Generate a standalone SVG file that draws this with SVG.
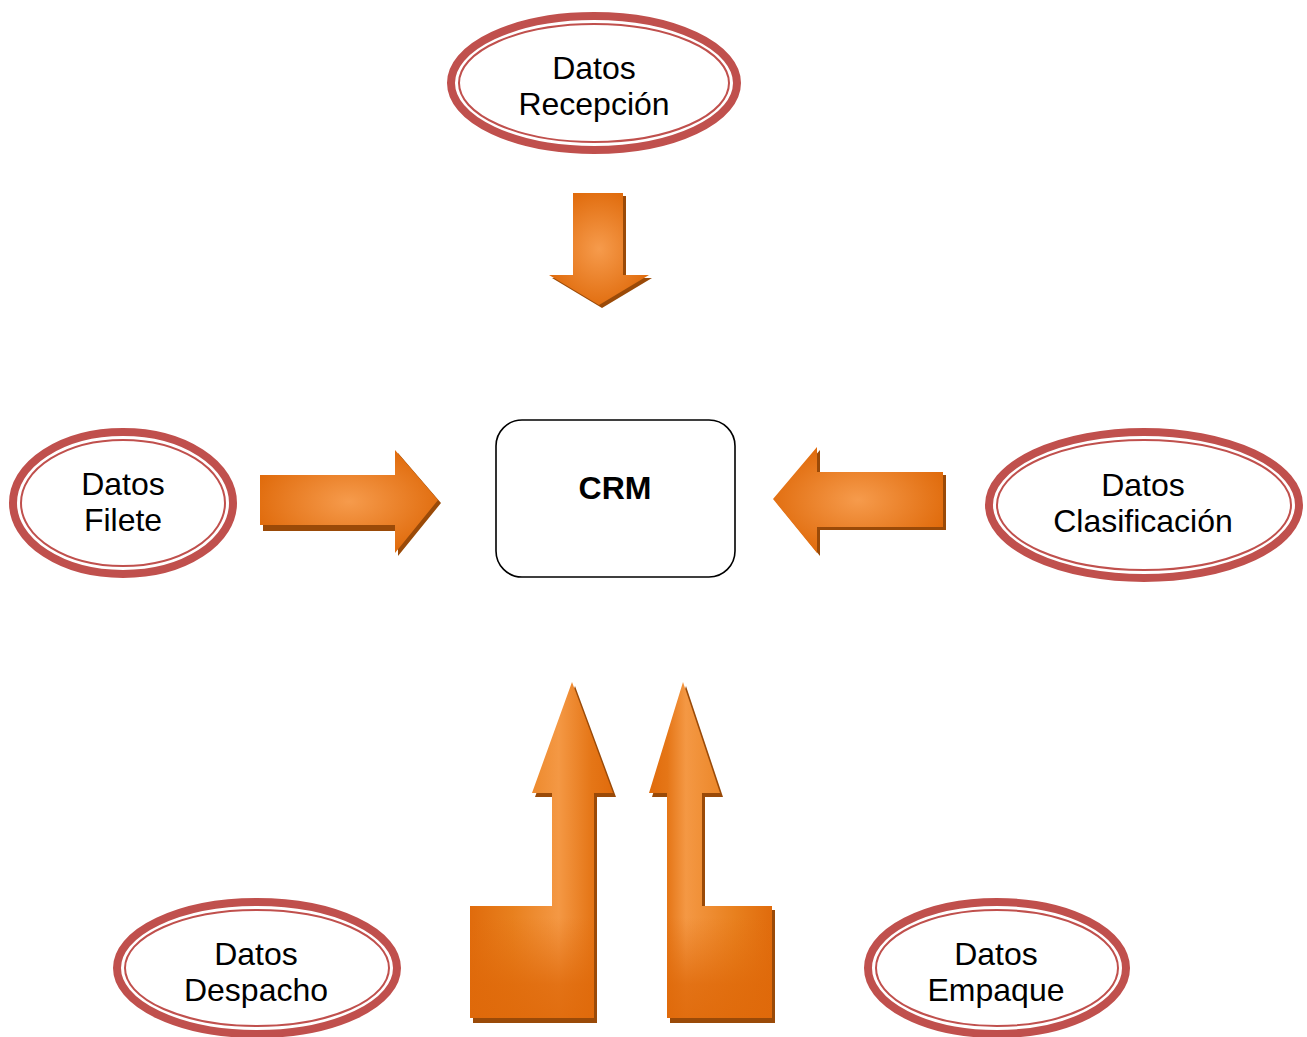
<svg xmlns="http://www.w3.org/2000/svg" width="1307" height="1037" viewBox="0 0 1307 1037">
<style>
.outer{fill:#fff;stroke:#C0504D;stroke-width:8}
.inner{fill:none;stroke:#C0504D;stroke-width:2}
.lbl{font-family:"Liberation Sans",Arial,sans-serif;font-size:32px;fill:#000;text-anchor:middle}
.shadow{fill:#9A4A08}
</style>
<defs>
<radialGradient id="rg" cx="50%" cy="50%" r="55%">
<stop offset="0" stop-color="#F69B4C"/>
<stop offset="1" stop-color="#E06B0C"/>
</radialGradient>
<linearGradient id="lgL" x1="0" y1="0" x2="1" y2="0">
<stop offset="0" stop-color="#E06B0C"/>
<stop offset="0.3" stop-color="#E8801E"/>
<stop offset="0.62" stop-color="#F49844"/>
<stop offset="0.85" stop-color="#E57617"/>
<stop offset="1" stop-color="#E06B0C"/>
</linearGradient>
<linearGradient id="lgR" x1="0" y1="0" x2="1" y2="0">
<stop offset="0" stop-color="#E06B0C"/>
<stop offset="0.15" stop-color="#E57617"/>
<stop offset="0.3" stop-color="#F49844"/>
<stop offset="0.7" stop-color="#E8801E"/>
<stop offset="1" stop-color="#E06B0C"/>
</linearGradient>
<linearGradient id="shade" x1="0" y1="0" x2="0" y2="1">
<stop offset="0" stop-color="#E06B0C" stop-opacity="0"/>
<stop offset="0.7" stop-color="#E06B0C" stop-opacity="0"/>
<stop offset="0.9" stop-color="#DF690A" stop-opacity="0.8"/>
<stop offset="1" stop-color="#DF690A" stop-opacity="0.9"/>
</linearGradient>
</defs>

<g id="connectors">
<g id="arrow-down">
<polygon class="shadow" points="576,196 626,196 626,278 652,278 602,308 552,278 576,278"/>
<polygon fill="url(#rg)" points="573,193 623,193 623,275 649,275 599,305 549,275 573,275"/>
</g>
<g id="arrow-right">
<polygon class="shadow" points="263,478 398,478 398,453 441,503 398,556 398,531 263,531"/>
<polygon fill="url(#rg)" points="260,475 395,475 395,450 438,500 395,553 395,525 260,525"/>
</g>
<g id="arrow-left">
<polygon class="shadow" points="946,475 946,530 820,530 820,556 776,502 820,450 820,475"/>
<polygon fill="url(#rg)" points="943,472 943,527 817,527 817,553 773,499 817,447 817,472"/>
</g>
<g id="arrow-up-left">
<polygon class="shadow" points="473,910 555,910 555,797 535,797 575,686 616,797 597,797 597,1023 473,1023"/>
<polygon fill="url(#lgL)" points="470,906 552,906 552,793 532,793 572,682 613,793 594,793 594,1018 470,1018"/>
<polygon fill="url(#shade)" points="470,906 552,906 552,793 532,793 572,682 613,793 594,793 594,1018 470,1018"/>
</g>
<g id="arrow-up-right">
<polygon class="shadow" points="670,1023 670,797 652,797 686,686 723,797 705,797 705,910 775,910 775,1023"/>
<polygon fill="url(#lgR)" points="667,1018 667,793 649,793 683,682 720,793 702,793 702,906 772,906 772,1018"/>
<polygon fill="url(#shade)" points="667,1018 667,793 649,793 683,682 720,793 702,793 702,906 772,906 772,1018"/>
</g>
</g>

<g id="node-crm">
<rect x="496" y="420" width="239" height="157" rx="26" ry="26" fill="#fff" stroke="#000" stroke-width="1.6"/>
<text x="615" y="499" font-family="Liberation Sans,Arial,sans-serif" font-size="32" font-weight="bold" text-anchor="middle">CRM</text>
</g>

<g id="node-recepcion">
<ellipse class="outer" cx="594" cy="83" rx="143" ry="67"/>
<ellipse class="inner" cx="594" cy="83" rx="135" ry="59"/>
<text class="lbl" x="594" y="79">Datos</text>
<text class="lbl" x="594" y="115">Recepción</text>
</g>

<g id="node-filete">
<ellipse class="outer" cx="123" cy="503" rx="110" ry="71"/>
<ellipse class="inner" cx="123" cy="503" rx="102" ry="63"/>
<text class="lbl" x="123" y="495">Datos</text>
<text class="lbl" x="123" y="531">Filete</text>
</g>

<g id="node-clasificacion">
<ellipse class="outer" cx="1144" cy="505" rx="155" ry="73"/>
<ellipse class="inner" cx="1144" cy="505" rx="147" ry="65"/>
<text class="lbl" x="1143" y="496">Datos</text>
<text class="lbl" x="1143" y="532">Clasificación</text>
</g>

<g id="node-despacho">
<ellipse class="outer" cx="257" cy="968" rx="140" ry="66"/>
<ellipse class="inner" cx="257" cy="968" rx="132" ry="58"/>
<text class="lbl" x="256" y="965">Datos</text>
<text class="lbl" x="256" y="1001">Despacho</text>
</g>

<g id="node-empaque">
<ellipse class="outer" cx="997" cy="968" rx="129" ry="66"/>
<ellipse class="inner" cx="997" cy="968" rx="121" ry="58"/>
<text class="lbl" x="996" y="965">Datos</text>
<text class="lbl" x="996" y="1001">Empaque</text>
</g>
</svg>
